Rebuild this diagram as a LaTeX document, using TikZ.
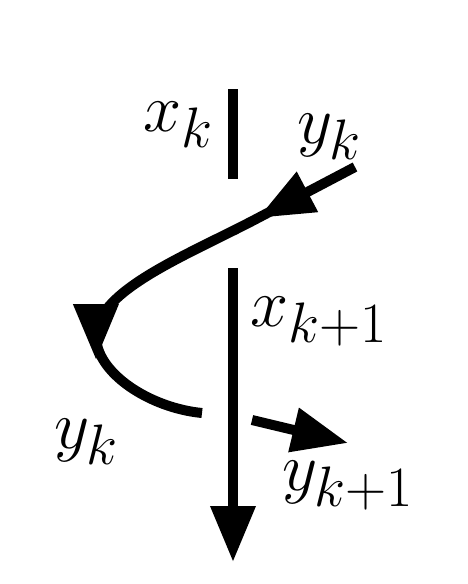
\documentclass[tikz,border=0pt]{standalone}
\usepackage{amsmath}
\usepackage{tikz}
\usetikzlibrary{arrows.meta,decorations.markings}

\tikzset{
  wire/.style={line width=10pt},
  lbl/.style={inner sep=0pt,anchor=base west,font=\Huge},
}
\newcommand{\biglbl}[1]{\scalebox{2.75}{$#1$}}

\begin{document}
\begin{tikzpicture}[x=1pt,y=-1pt,>={Triangle[length=56pt,width=43pt]}]
  \useasboundingbox (0,0) rectangle (468,584);
  \coordinate (xtop) at (233,89);
  \coordinate (xmid) at (233,179);
  \coordinate (xlow) at (233,268);
  \coordinate (xend) at (233,562);
  \coordinate (yin) at (355,167);
  \coordinate (ya) at (258,218);
  \coordinate (yv) at (96,336);
  \coordinate (ygap) at (202,413);
  \coordinate (yrest) at (252,420);
  \coordinate (yout) at (348,443);
  \node[lbl] (xk) at (143,131) {\biglbl{x_k}};
  \node[lbl] (yk) at (297,143) {\biglbl{y_k}};
  \node[lbl] (xk1) at (250,326) {\biglbl{x_{k+1}}};
  \node[lbl] (ykl) at (54,448) {\biglbl{y_k}};
  \node[lbl] (yk1) at (282,490) {\biglbl{y_{k+1}}};
  \draw[wire] (xtop) -- (xmid);
  \draw[wire,->] (xlow) -- (xend);
  \draw[wire,postaction={decorate},decoration={markings,
      mark=at position 109.6pt with {\arrow{>}}}]
    (yin) -- (ya) .. controls (190,254) and (96,290) .. (yv);
  \draw[wire,postaction={decorate},decoration={markings,
      mark=at position 0.1pt with {\pgftransformxshift{24pt}\arrow{>}}}]
    (yv) .. controls (96,373) and (150,408) .. (ygap);
  \draw[wire,->] (yrest) -- (yout);
\end{tikzpicture}
\end{document}
